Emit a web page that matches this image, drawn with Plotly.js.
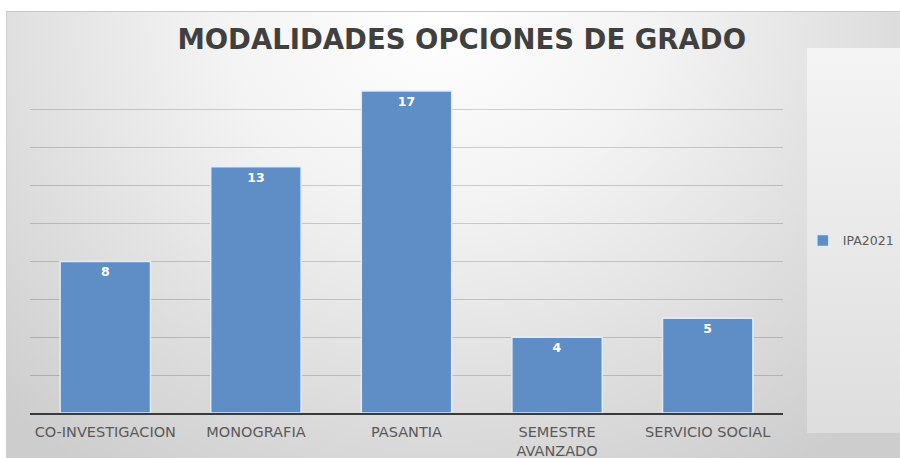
<!DOCTYPE html>
<html>
<head>
<meta charset="utf-8">
<script src="https://cdn.plot.ly/plotly-3.0.1.min.js"></script>
<style>
  html, body { margin:0; padding:0; background:#ffffff; width:900px; height:458px; overflow:hidden; }
  #frame { position:absolute; left:6px; top:11px; width:900px; height:460px;
    border-top:1px solid #c8c8c8; border-left:1px solid #d0d0d0;
    background: radial-gradient(ellipse 70% 120% at 48% 0%, #ffffff 0%, #f3f3f3 35%, #dedede 70%, #cdcdcd 100%); }
  #legbox { position:absolute; left:807px; top:48px; width:100px; height:385px;
    background: linear-gradient(180deg, #f4f4f4 0%, #e9e9e9 50%, #dddddd 100%); }
  #chart { position:absolute; left:0; top:0; width:900px; height:458px; }
</style>
</head>
<body>
<div id="frame"></div>
<div id="legbox"></div>
<div id="chart"></div>
<script>
const categories = ["CO-INVESTIGACION", "MONOGRAFIA", "PASANTIA", "SEMESTRE<br>AVANZADO", "SERVICIO SOCIAL"];
const seriesName = "IPA2021";
const values = [8, 13, 17, 4, 5];
const titleText = "MODALIDADES OPCIONES DE GRADO";

const trace = {
  type: "bar",
  x: categories,
  y: values,
  name: seriesName,
  text: values.map(String),
  textposition: "inside",
  insidetextanchor: "end",
  textfont: { family: "DejaVu Sans, sans-serif", size: 12.5, color: "#ffffff", weight: "bold" },
  marker: { color: "#5f8dc5", line: { color: "rgba(225,238,252,0.95)", width: 1.5 } },
  showlegend: true,
  hoverinfo: "none"
};

const layout = {
  width: 900, height: 458,
  paper_bgcolor: "rgba(0,0,0,0)",
  plot_bgcolor: "rgba(0,0,0,0)",
  margin: { l: 30, r: 117, t: 72, b: 45 },
  bargap: 0.4,
  title: { text: "<b>" + titleText + "</b>", xref: "container", x: 0.513, xanchor: "center", yref: "container", y: 0.913, yanchor: "middle",
    font: { family: "DejaVu Sans, sans-serif", size: 27.5, color: "#404040" } },
  xaxis: {
    type: "category",
    showgrid: false,
    showline: true, linecolor: "#3a3a3a", linewidth: 1.5,
    ticks: "",
    ticklabelstandoff: 5,
    tickfont: { family: "DejaVu Sans, sans-serif", size: 14.5, color: "#595959" },
    fixedrange: true
  },
  yaxis: {
    range: [0, 18], dtick: 2, tick0: 0,
    showgrid: true, gridcolor: "rgba(0,0,0,0.17)", gridwidth: 1,
    showticklabels: false, zeroline: false, showline: false, ticks: "",
    fixedrange: true
  },
  legend: { xref: "container", x: 0.892, xanchor: "left", yref: "container", y: 0.474, yanchor: "middle",
    bgcolor: "rgba(0,0,0,0)",
    font: { family: "DejaVu Sans, sans-serif", size: 12.5, color: "#595959" } },
  showlegend: true
};

Plotly.newPlot("chart", [trace], layout, { displayModeBar: false, staticPlot: true });
</script>
</body>
</html>
